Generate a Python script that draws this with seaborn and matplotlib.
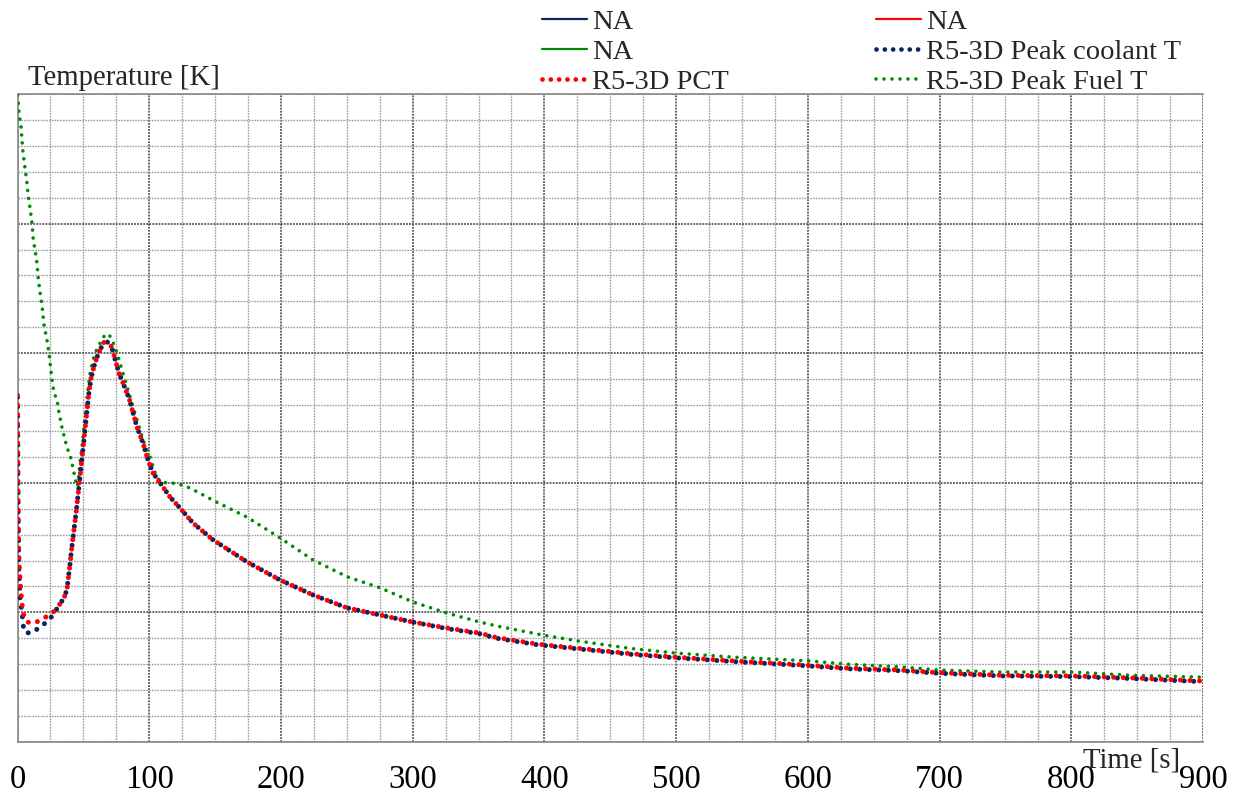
import numpy as np
import pandas as pd
import matplotlib
matplotlib.use("Agg")
import matplotlib.pyplot as plt
import seaborn as sns
from matplotlib.lines import Line2D

# ---- data -------------------------------------------------------------
# Peak cladding temperature (R5-3D PCT)
pct_time = [0, 0.5, 1.0, 1.5, 2.2, 2.7, 3.4, 4.3, 5.7, 8.0, 10.2, 13.0, 16.3, 21.6,
            27.0, 31.5, 35.3, 37.6, 38.3, 39.9, 40.6, 42.1, 43.7, 45.2, 46.7, 48.2,
            49.7, 51.2, 52.8, 54.3, 55.8, 58.1, 60.4, 62.6, 65.7, 68.7, 71.0, 72.5,
            74.0, 77.1, 80.1, 84.6, 90.7, 95.3, 99.1, 102.9, 108.2, 115.8, 123.4,
            133.2, 148.4, 174.2, 199.3, 224.3, 250.2, 275.2, 300.3, 326.0, 351.1,
            364.0, 395.0, 429.0, 467.0, 499.0, 545.0, 596.0, 630.0, 670.0, 700.0,
            746.0, 800.0, 845.0, 900.0]
pct_temp = [935, 760, 690, 665, 645, 630, 614, 600, 588, 585, 583, 584, 587, 593,
            600, 611, 622, 636, 648, 675, 689, 715, 741, 767, 795, 823,
            852, 881, 912, 940, 961, 980, 994, 1005, 1017, 1017, 1011, 1003,
            991, 969, 954, 931, 886, 861, 835, 815, 800, 778, 761,
            738, 712, 678, 650, 627, 607, 596, 585, 576, 568,
            561, 551, 544, 536, 531, 525, 519, 514, 511, 507,
            503, 502, 499, 494]

# Peak coolant temperature (R5-3D)
cool_time = [0, 0.5, 1.0, 1.5, 1.9, 2.7, 3.4, 4.2, 4.7, 6.5, 9.5, 14.8, 20.1, 24.7,
             28.5, 31.5, 35.3, 37.6, 38.3, 39.9, 40.6, 42.1, 43.7, 45.2, 46.7, 48.2,
             49.7, 51.2, 52.8, 54.3, 55.8, 58.1, 60.4, 62.6, 65.7, 68.7, 71.0, 72.5,
             74.0, 77.1, 80.1, 84.6, 90.7, 95.3, 99.1, 102.9, 108.2, 115.8, 123.4,
             133.2, 148.4, 174.2, 199.3, 224.3, 250.2, 275.2, 300.3, 326.0, 351.1,
             364.0, 395.0, 429.0, 467.0, 499.0, 545.0, 596.0, 630.0, 670.0, 700.0,
             746.0, 800.0, 845.0, 900.0]
cool_temp = [932, 755, 670, 645, 624, 611, 599, 585, 572, 569, 568, 574, 582, 590,
             601, 611, 622, 636, 648, 675, 689, 715, 741, 767, 795, 823,
             852, 881, 912, 940, 961, 980, 994, 1005, 1017, 1017, 1011, 1003,
             991, 969, 954, 931, 886, 861, 835, 815, 800, 778, 761,
             738, 712, 678, 650, 627, 607, 596, 585, 575, 567,
             560, 550, 543, 535, 530, 524, 518, 513, 510, 506,
             502, 501, 498, 493]

# Peak fuel temperature (R5-3D)
fuel_time = [0, 0.4, 1.1, 2.7, 3.4, 4.2, 5.7, 7.2, 8.0, 9.5, 11.0, 11.8, 13.3, 14.8,
             15.6, 17.1, 18.6, 20.1, 22.4, 23.9, 26.2, 27.7, 30.0, 31.5, 33.8, 37.6,
             39.9, 42.1, 44.4, 45.3, 46.0, 47.4, 49.0, 50.5, 52.0, 53.5, 55.0, 57.3,
             60.0, 62.6, 65.7, 67.9, 70.0, 71.0, 74.0, 77.8, 81.6, 86.9, 91.5, 95.3,
             100.6, 104.0, 106.0, 109.0, 113.5, 121.0, 131.0, 148.4, 174.2, 199.3,
             224.3, 250.2, 275.2, 300.3, 326.0, 351.1, 366.3, 399.0, 425.0, 467.0,
             501.0, 543.0, 602.0, 630.0, 670.0, 700.0, 746.0, 800.0, 845.0, 900.0]
fuel_temp = [1398, 1394, 1371, 1349, 1329, 1309, 1286, 1263, 1244, 1224, 1201, 1179, 1159, 1139,
             1118, 1094, 1074, 1044, 1020, 1000, 959, 939, 928, 908, 885, 854,
             843, 823, 801, 794, 800, 830, 857, 885, 915, 945, 968, 990,
             1005, 1015, 1026, 1030, 1027, 1023, 1010, 985, 959, 923, 892, 866,
             840, 818, 808, 801, 800, 799, 792, 773, 747, 715,
             681, 655, 638, 616, 599, 585, 578, 565, 556, 544,
             537, 531, 525, 520, 516, 511, 508, 508, 503, 500]

legend_labels = ["NA", "NA", "R5-3D PCT", "NA", "R5-3D Peak coolant T", "R5-3D Peak Fuel T"]
x_ticks = [0, 100, 200, 300, 400, 500, 600, 700, 800, 900]

# ---- style ------------------------------------------------------------
sns.set_style("white")
plt.rcParams["font.family"] = ["Liberation Serif", "DejaVu Serif"]

NAVY = "#0b2463"
GREEN = "#008a00"
RED = "#ff0000"

fig = plt.figure(figsize=(12.4, 8.01), dpi=100)
W, H = 1240, 801
ax = fig.add_axes([17.5 / W, 1 - 742 / H, (1203 - 17.5) / W, (742 - 94) / H])

dot_big = dict(linewidth=3.6, linestyle=(0, (0.01, 1.9)), dash_capstyle="round")
dot_small = dict(linewidth=2.6, linestyle=(0, (0.01, 2.2)), dash_capstyle="round")

fuel = pd.DataFrame({"t": fuel_time, "T": fuel_temp})
cool = pd.DataFrame({"t": cool_time, "T": cool_temp})
pct = pd.DataFrame({"t": pct_time, "T": pct_temp})

sns.lineplot(data=fuel, x="t", y="T", ax=ax, color=GREEN, sort=False,
             estimator=None, legend=False, zorder=3, **dot_small)
sns.lineplot(data=cool, x="t", y="T", ax=ax, color=NAVY, sort=False,
             estimator=None, legend=False, zorder=4, **dot_big)
sns.lineplot(data=pct, x="t", y="T", ax=ax, color=RED, sort=False,
             estimator=None, legend=False, zorder=5, **dot_big)

ax.set_xlim(0, 900)
ax.set_ylim(400, 1400)
ax.set_xlabel("")
ax.set_ylabel("")

ax.set_xticks(x_ticks)
ax.set_xticklabels([str(v) for v in x_ticks])
ax.set_xticks(np.arange(0, 901, 25), minor=True)
ax.set_yticks(np.arange(400, 1401, 200))
ax.set_yticks(np.arange(400, 1401, 40), minor=True)

ax.grid(which="major", color="#3a3a3a", linestyle=(0, (1.2, 0.8)), linewidth=1.1, zorder=1)
ax.grid(which="minor", color="#a0a0a0", linestyle=(0, (1.2, 0.8)), linewidth=1.0, zorder=1)
ax.set_axisbelow(True)

ax.tick_params(which="minor", length=0)
ax.tick_params(axis="x", which="major", direction="out", length=7.5, width=1.0,
               color="#8a8a8a", labelsize=23.5, pad=8.5, labelcolor="black")
ax.tick_params(axis="y", which="major", direction="out", length=7.5, width=1.0,
               color="#8a8a8a", labelleft=False)

for side in ("left", "bottom", "top"):
    ax.spines[side].set_color("#8a8a8a")
    ax.spines[side].set_linewidth(1.2)
ax.spines["right"].set_visible(False)

fig.text(28 / W, 1 - 85 / H, "Temperature [K]", fontsize=20.7, ha="left", va="baseline")
fig.text(1180 / W, 1 - 767 / H, "Time [s]", fontsize=20.7, ha="right", va="baseline")

handles = [
    Line2D([], [], color=NAVY, linewidth=1.6),
    Line2D([], [], color=GREEN, linewidth=1.6),
    Line2D([], [], color=RED, linewidth=3.4, linestyle=(0, (0.01, 1.75)), dash_capstyle="round"),
    Line2D([], [], color=RED, linewidth=1.6),
    Line2D([], [], color=NAVY, linewidth=3.4, linestyle=(0, (0.01, 1.75)), dash_capstyle="round"),
    Line2D([], [], color=GREEN, linewidth=2.6, linestyle=(0, (0.01, 2.2)), dash_capstyle="round"),
]
fig.legend(handles, legend_labels, ncol=2, loc="upper left",
           bbox_to_anchor=(542 / W, 1 - 9 / H), bbox_transform=fig.transFigure,
           frameon=False, fontsize=20.5, borderpad=0, borderaxespad=0,
           handlelength=1.58, handletextpad=0.18, columnspacing=5.16, labelspacing=0.14)

fig.savefig("out.png", dpi=100)
